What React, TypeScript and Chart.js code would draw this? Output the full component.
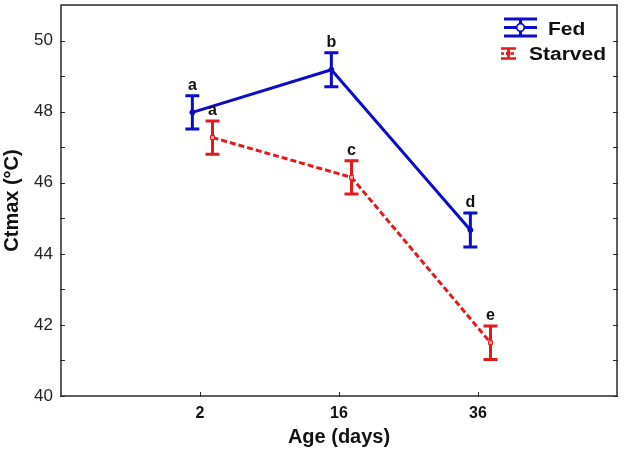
import React, { useEffect, useRef } from 'react';
import { Chart, registerables } from 'chart.js';

Chart.register(...registerables);

const categories = ['2', '16', '36'];
const fedMean = [47.98, 49.18, 44.67];
const fedErr = [0.47, 0.48, 0.48];
const starvedMean = [47.27, 46.15, 41.5];
const starvedErr = [0.47, 0.47, 0.47];
const fedLetters = ['a', 'b', 'd'];
const starvedLetters = ['a', 'c', 'e'];
const yTicks = [40, 42, 44, 46, 48, 50];
const yMinorTicks = [41, 43, 45, 47, 49];

const BLUE = '#0B0BCC';
const RED = '#E01B1B';
const FONT = '"Liberation Sans", Arial, Helvetica, sans-serif';
const FED_SHIFT = -0.055;
const STARVED_SHIFT = 0.09;

const decor = {
  id: 'decor',
  beforeDatasetsDraw(chart: any) {
    const { ctx, scales } = chart;
    chart.data.datasets.forEach((ds: any) => {
      ctx.save();
      ctx.strokeStyle = ds.borderColor;
      ctx.lineWidth = 3;
      ctx.setLineDash([]);
      ds.data.forEach((p: any) => {
        const x = scales.x.getPixelForValue(p.x);
        const yt = scales.y.getPixelForValue(p.y + p.err);
        const yb = scales.y.getPixelForValue(p.y - p.err);
        ctx.beginPath();
        ctx.moveTo(x, yt);
        ctx.lineTo(x, yb);
        ctx.moveTo(x - 7, yt);
        ctx.lineTo(x + 7, yt);
        ctx.moveTo(x - 7, yb);
        ctx.lineTo(x + 7, yb);
        ctx.stroke();
      });
      ctx.restore();
    });
  },
  afterDraw(chart: any) {
    const { ctx, chartArea: a, scales } = chart;
    ctx.save();
    // frame
    ctx.strokeStyle = '#2a2a2a';
    ctx.lineWidth = 1.5;
    ctx.setLineDash([]);
    ctx.strokeRect(a.left, a.top, a.right - a.left, a.bottom - a.top);
    // ticks
    ctx.lineWidth = 1;
    ctx.beginPath();
    [...yTicks, ...yMinorTicks].forEach((v) => {
      const y = Math.round(scales.y.getPixelForValue(v)) + 0.5;
      ctx.moveTo(a.left - 1, y);
      ctx.lineTo(a.left + 4, y);
      ctx.moveTo(a.right + 1, y);
      ctx.lineTo(a.right - 4, y);
    });
    categories.forEach((_, i) => {
      const x = Math.round(scales.x.getPixelForValue(i + 1)) + 0.5;
      ctx.moveTo(x, a.bottom + 1);
      ctx.lineTo(x, a.bottom - 4);
    });
    ctx.stroke();
    // letters
    ctx.fillStyle = '#111';
    ctx.font = `bold 16px ${FONT}`;
    ctx.textAlign = 'center';
    ctx.textBaseline = 'alphabetic';
    chart.data.datasets.forEach((ds: any) => {
      ds.data.forEach((p: any) => {
        const x = scales.x.getPixelForValue(p.x);
        const yt = scales.y.getPixelForValue(p.y + p.err);
        ctx.fillText(p.letter, x, yt - 6);
      });
    });
    // legend
    const lx = a.right - 113;
    // Fed symbol
    ctx.strokeStyle = BLUE;
    ctx.lineWidth = 3;
    ctx.beginPath();
    ctx.moveTo(lx, 19);
    ctx.lineTo(lx + 33, 19);
    ctx.moveTo(lx, 36);
    ctx.lineTo(lx + 33, 36);
    ctx.moveTo(lx + 16.5, 19);
    ctx.lineTo(lx + 16.5, 36);
    ctx.moveTo(lx, 27.5);
    ctx.lineTo(lx + 33, 27.5);
    ctx.stroke();
    ctx.beginPath();
    ctx.lineWidth = 1.8;
    ctx.fillStyle = '#fff';
    ctx.arc(lx + 16.5, 27.5, 3.8, 0, Math.PI * 2);
    ctx.fill();
    ctx.stroke();
    // Starved symbol
    const sx = lx - 3;
    ctx.strokeStyle = RED;
    ctx.lineWidth = 2.6;
    ctx.beginPath();
    ctx.moveTo(sx, 48.5);
    ctx.lineTo(sx + 15, 48.5);
    ctx.moveTo(sx, 58.5);
    ctx.lineTo(sx + 15, 58.5);
    ctx.moveTo(sx + 7.5, 48.5);
    ctx.lineTo(sx + 7.5, 58.5);
    ctx.stroke();
    ctx.beginPath();
    ctx.setLineDash([3, 2]);
    ctx.moveTo(sx, 53.5);
    ctx.lineTo(sx + 15, 53.5);
    ctx.stroke();
    ctx.setLineDash([]);
    ctx.fillStyle = RED;
    ctx.fillRect(sx + 5.5, 51.5, 4, 4);
    // legend text
    ctx.fillStyle = '#111';
    ctx.font = `bold 17.5px ${FONT}`;
    ctx.textAlign = 'left';
    ctx.save();
    ctx.translate(lx + 44, 35);
    ctx.scale(1.2, 1);
    ctx.fillText('Fed', 0, 0);
    ctx.restore();
    ctx.save();
    ctx.translate(lx + 25, 60);
    ctx.scale(1.2, 1);
    ctx.fillText('Starved', 0, 0);
    ctx.restore();
    ctx.restore();
  },
};

export default function App() {
  const ref = useRef<HTMLCanvasElement | null>(null);
  useEffect(() => {
    document.body.style.margin = '0';
    const canvas = ref.current;
    if (!canvas) return;
    const mk = (means: number[], errs: number[], letters: string[], shift: number) =>
      means.map((v, i) => ({ x: i + 1 + shift, y: v, err: errs[i], letter: letters[i] }));
    const chart = new Chart(canvas, {
      type: 'line',
      data: {
        datasets: [
          {
            label: 'Fed',
            data: mk(fedMean, fedErr, fedLetters, FED_SHIFT) as any,
            borderColor: BLUE,
            backgroundColor: BLUE,
            borderWidth: 3,
            pointRadius: 2.5,
            pointBorderWidth: 1,
            pointBackgroundColor: BLUE,
            pointStyle: 'circle',
            tension: 0,
          },
          {
            label: 'Starved',
            data: mk(starvedMean, starvedErr, starvedLetters, STARVED_SHIFT) as any,
            borderColor: RED,
            backgroundColor: RED,
            borderWidth: 3,
            borderDash: [6, 3],
            pointRadius: 2.8,
            pointBorderWidth: 1,
            pointBackgroundColor: '#f3a0a0',
            pointStyle: 'rect',
            tension: 0,
          },
        ],
      },
      options: {
        animation: false,
        responsive: false,
        layout: { padding: { top: 4, right: 8, left: 0, bottom: 0 } },
        plugins: { legend: { display: false }, tooltip: { enabled: false } },
        scales: {
          x: {
            type: 'linear',
            min: 0,
            max: 4,
            grid: { display: false, drawTicks: false },
            border: { display: false },
            afterBuildTicks: (s: any) => {
              s.ticks = categories.map((_, i) => ({ value: i + 1 }));
            },
            afterFit: (s: any) => {
              s.height = 63;
              s.paddingLeft = 0;
              s.paddingRight = 0;
            },
            ticks: {
              padding: 8,
              color: '#111',
              font: { family: FONT, size: 16, weight: 'bold' },
              callback: (v: any) => categories[Math.round(Number(v)) - 1] ?? '',
            },
            title: {
              display: true,
              text: 'Age (days)',
              color: '#111',
              font: { family: FONT, size: 20, weight: 'bold' },
              padding: { top: 0, bottom: 10 },
            },
          },
          y: {
            min: 40,
            max: 51,
            grid: { display: false, drawTicks: false },
            border: { display: false },
            afterBuildTicks: (s: any) => {
              s.ticks = yTicks.map((v) => ({ value: v }));
            },
            afterFit: (s: any) => {
              s.width = 61;
              s.paddingTop = 0;
              s.paddingBottom = 0;
            },
            ticks: {
              padding: 8,
              color: '#222',
              font: { family: FONT, size: 17 },
            },
            title: {
              display: true,
              text: 'Ctmax (°C)',
              color: '#111',
              font: { family: FONT, size: 20, weight: 'bold' },
              padding: { top: 0.5, bottom: 0 },
            },
          },
        },
      },
      plugins: [decor],
    });
    return () => chart.destroy();
  }, []);
  return (
    <div style={{ width: 625, height: 459 }}>
      <canvas ref={ref} width={625} height={459} />
    </div>
  );
}
